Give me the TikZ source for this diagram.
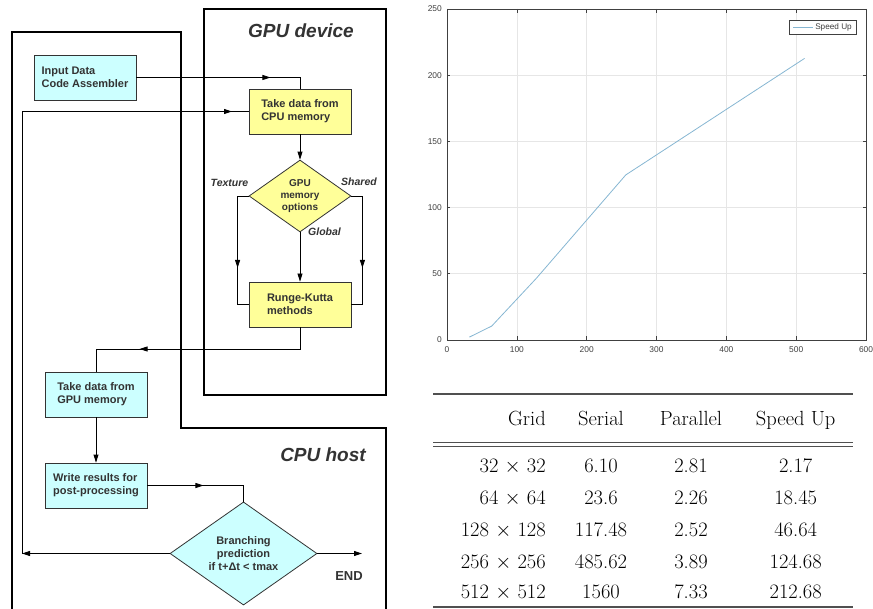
\documentclass[tikz,border=0pt]{standalone}
\usepackage{fontspec}
\newfontfamily\arial{Liberation Sans}
\usetikzlibrary{shapes.geometric,arrows.meta,decorations.markings}
\definecolor{cy}{HTML}{CCFFFF}
\definecolor{yl}{HTML}{FFFF99}
\definecolor{tx}{HTML}{333333}
\definecolor{gridc}{HTML}{E6E6E6}
\definecolor{plotc}{HTML}{86B6D2}
\definecolor{axc}{HTML}{404040}
\definecolor{rulec}{HTML}{505050}
\begin{document}
\begin{tikzpicture}[x=1pt,y=-1pt,
  frame/.style={line width=2pt,black},
  box/.style={draw=tx,line width=0.8pt,minimum width=102pt,minimum height=45pt,inner sep=0pt,align=left,text=tx,font=\arial\bfseries\fontsize{11}{13}\selectfont},
  dia/.style={diamond,draw=tx,line width=0.8pt,inner sep=0pt,align=center,text=tx},
  conn/.style={line width=0.8pt,black},
  tip/.style={-{Triangle[length=8pt,width=5pt]}},
  midarr/.style={postaction={decorate},decoration={markings,mark=at position #1 with {\arrow{Triangle[length=8pt,width=5pt]}}}},
  lbl/.style={text=tx,font=\arial\bfseries\itshape\fontsize{10.5}{12}\selectfont},
  title/.style={text=tx,font=\arial\bfseries\itshape\fontsize{19}{22}\selectfont},
  ticklab/.style={text=axc,font=\arial\fontsize{8.4}{10}\selectfont,inner sep=0pt},
  tab/.style={font=\fontsize{20.5}{24}\selectfont,inner sep=0pt},
  trule/.style={rulec,line width=1.1pt}
]
\useasboundingbox (0,0) rectangle (873,609);

% containers
\draw[frame] (204,9) rectangle (386,395);
\draw[frame] (12,612) -- (12,32) -- (181,32) -- (181,428) -- (386,428) -- (386,612);
\node[title] (tgpu) at (301,31) {GPU device};
\node[title] (tcpu) at (323,455) {CPU host};

% flowchart nodes
\node[box,fill=cy] (inp) at (85,77.5) {Input Data\\Code Assembler};
\node[box,fill=yl] (cpum) at (300,111.5) {Take data from\\CPU memory};
\node[dia,fill=yl,minimum width=102pt,minimum height=56pt,font=\arial\bfseries\fontsize{10}{12}\selectfont] (opt) at (300,196) {GPU\\memory\\options};
\node[box,fill=yl] (rk) at (300,304.5) {Runge-Kutta\\methods};
\node[box,fill=cy] (gm) at (96,394.5) {Take data from\\GPU memory};
\node[box,fill=cy] (wr) at (96,485.5) {Write results for\\post-processing};
\node[dia,fill=cy,minimum width=147pt,minimum height=89pt,font=\arial\bfseries\fontsize{11}{12.7}\selectfont] (br) at (243.5,553.5) {Branching\\prediction\\if t+Δt < tmax};

\node[lbl] (ltex) at (229.5,183) {Texture};
\node[lbl] (lsh) at (359,182) {Shared};
\node[lbl] (lgl) at (324.5,232) {Global};
\node[text=tx,font=\arial\bfseries\fontsize{13}{15}\selectfont] (lend) at (349,576) {END};

% connectors
\coordinate (c1) at (300,349);
\coordinate (lc) at (22,553.5);
\coordinate (lt) at (22,111.5);
\coordinate (endc) at (362,553.5);
\draw[conn,midarr=134pt] (inp.east) -- (inp.east -| cpum.north) -- (cpum.north);
\draw[conn,tip] (cpum.south) -- (opt.north);
\draw[conn,midarr=83pt] (opt.west) -- ++(-11,0) |- (rk.west);
\draw[conn,midarr=83pt] (opt.east) -- ++(11,0) |- (rk.east);
\draw[conn,tip] (opt.south) -- (rk.north);
\draw[conn,midarr=182pt] (rk.south) -- (c1) -| (gm.north);
\draw[conn,tip] (gm.south) -- (wr.north);
\draw[conn,midarr=56pt] (wr.east) -| (br.north);
\draw[conn,tip] (br.west) -- (lc);
\draw[conn,midarr=652pt] (lc) -- (lt) -- (cpum.west);
\draw[conn,tip] (br.east) -- (endc);

% chart
\begin{scope}[shift={(447pt,-340pt)},x=0.69833pt,y=1.324pt]
  \foreach \v in {100,200,...,500} \draw[gridc,line width=0.6pt] (\v,0) -- (\v,250);
  \foreach \v in {50,100,...,200} \draw[gridc,line width=0.6pt] (0,\v) -- (600,\v);
  \draw[axc,line width=0.6pt] (0,0) rectangle (600,250);
  \foreach \v in {0,100,...,600}{
    \draw[axc,line width=0.6pt] (\v,0) -- ++(0,3);
    \draw[axc,line width=0.6pt] (\v,250) -- ++(0,-3);
    \node[ticklab,yshift=-10pt] (xt\v) at (\v,0) {\v};
  }
  \foreach \v in {0,50,...,250}{
    \draw[axc,line width=0.6pt] (0,\v) -- ++(4,0);
    \draw[axc,line width=0.6pt] (600,\v) -- ++(-4,0);
    \node[ticklab,anchor=east,xshift=-5pt] (yt\v) at (0,\v) {\v};
  }
  \draw[plotc,line width=0.8pt,line join=round] (32,2.17) -- (64,10.5) -- (128,46.64) -- (256,124.68) -- (512,212.68);
\end{scope}
\draw[axc,line width=0.6pt,fill=white] (789,20) rectangle (856,34);
\draw[plotc,line width=0.8pt] (793,27) -- (813,27);
\node[ticklab,font=\arial\fontsize{8.2}{10}\selectfont] (leg) at (833.5,27) {Speed Up};

% table
\draw[trule] (433,394) -- (853,394);
\draw[trule] (433,442.7) -- (853,442.7);
\draw[trule] (433,446.7) -- (853,446.7);
\draw[trule] (433,607) -- (853,607);
\node[tab,anchor=base east] (h1) at (546,425.7) {Grid};
\node[tab,anchor=base] (h2) at (601,425.7) {Serial};
\node[tab,anchor=base] (h3) at (691,425.7) {Parallel};
\node[tab,anchor=base] (h4) at (795.7,425.7) {Speed Up};
\foreach \g/\s/\p/\u/\yy [count=\i] in {32/6.10/2.81/2.17/472.6, 64/23.6/2.26/18.45/504, 128/117.48/2.52/46.64/536, 256/485.62/3.89/124.68/568, 512/1560/7.33/212.68/598.6}{
  \node[tab,anchor=base east] (g\i) at (546,\yy) {\g\ $\times$ \g};
  \node[tab,anchor=base] (s\i) at (601,\yy) {\s};
  \node[tab,anchor=base] (p\i) at (691,\yy) {\p};
  \node[tab,anchor=base] (u\i) at (795.7,\yy) {\u};
}
\end{tikzpicture}
\end{document}
